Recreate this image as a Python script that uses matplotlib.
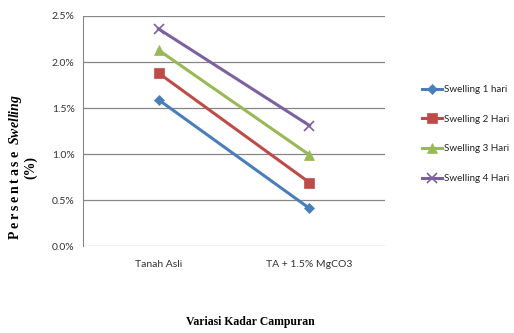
import matplotlib.pyplot as plt
from matplotlib.ticker import FuncFormatter

categories = ["Tanah Asli", "TA + 1.5% MgCO3"]
series_names = ["Swelling 1 hari", "Swelling 2 Hari", "Swelling 3 Hari", "Swelling 4 Hari"]
swelling_1 = [1.59, 0.41]
swelling_2 = [1.88, 0.69]
swelling_3 = [2.13, 0.99]
swelling_4 = [2.36, 1.31]

colors = ["#4A7EBB", "#BE4B48", "#98B954", "#7D60A0"]
markers = ["D", "s", "^", "x"]
msizes = [5, 6.5, 7, 7]

plt.rcParams["mathtext.fontset"] = "custom"
plt.rcParams["mathtext.it"] = "Liberation Serif:italic:bold"
plt.rcParams["mathtext.rm"] = "Liberation Serif:bold"

fig = plt.figure(figsize=(5.14, 3.33), dpi=100)
ax = fig.add_axes([0.1615, 0.261, 0.5875, 0.691])

x = [0, 1]
for vals, name, c, m, ms in zip([swelling_1, swelling_2, swelling_3, swelling_4],
                                series_names, colors, markers, msizes):
    ax.plot(x, vals, color=c, marker=m, markersize=ms, lw=2.2, label=name,
            markeredgewidth=1.2 if m == "x" else 0.5, markeredgecolor=c)

ax.set_xlim(-0.5, 1.5)
ax.set_ylim(0, 2.5)
ax.set_yticks([0, 0.5, 1.0, 1.5, 2.0, 2.5])
ax.yaxis.set_major_formatter(FuncFormatter(lambda v, p: f"{v:.1f}%"))
ax.set_xticks(x)
ax.set_xticklabels(categories)
ax.grid(axis="y", color="#868686", lw=0.9)
ax.set_axisbelow(True)
for s in ["top", "right", "bottom"]:
    ax.spines[s].set_visible(False)
ax.spines["left"].set_color("#868686")
ax.tick_params(axis="both", length=0, labelsize=7.5, colors="#333333", pad=4)
ax.tick_params(axis="x", pad=10)
ax.tick_params(axis="y", pad=6)
for t in ax.get_xticklabels() + ax.get_yticklabels():
    t.set_family("Lato")

leg = ax.legend(loc="upper left", bbox_to_anchor=(1.122, 0.70), frameon=False,
                prop={"family": "Lato", "size": 7.1}, labelspacing=2.1,
                handlelength=2.0, handletextpad=0.2, borderaxespad=0.0,
                borderpad=0.0)
for t in leg.get_texts():
    t.set_color("#222222")

spaced = "\u2009".join("Persentase")
fig.text(0.030, 0.498, spaced + "  $\\mathit{Swelling}$", rotation=90,
         ha="center", va="center", family="Liberation Serif", weight="bold",
         size=10)
fig.text(0.060, 0.498, "(%)", rotation=90, ha="center", va="center",
         family="Liberation Serif", weight="bold", size=10)
fig.text(0.487, 0.033, "Variasi Kadar Campuran", ha="center", va="center",
         family="Liberation Serif", weight="bold", size=8.5)

fig.savefig("out.png", dpi=100)
